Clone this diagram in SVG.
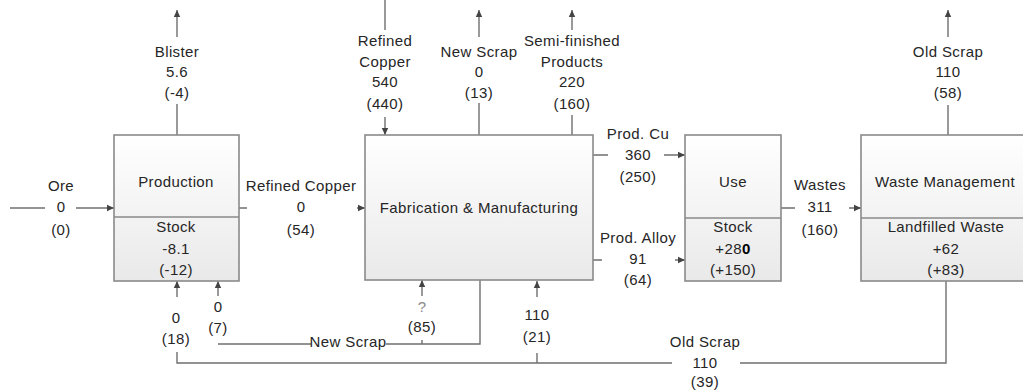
<svg xmlns="http://www.w3.org/2000/svg" width="1023" height="391" viewBox="0 0 1023 391">
<defs>
<linearGradient id="g" x1="0" y1="0" x2="0" y2="1">
<stop offset="0" stop-color="#ffffff"/>
<stop offset="1" stop-color="#e9e9e9"/>
</linearGradient>
<marker id="ah" markerWidth="8" markerHeight="8" refX="7" refY="4" orient="auto" markerUnits="userSpaceOnUse">
<path d="M0,0.8 L7,4 L0,7.2 Z" fill="#444"/>
</marker>
<style>
text{font-family:"Liberation Sans",Arial,sans-serif;font-size:15px;fill:#262626;text-anchor:middle;letter-spacing:0.4px}
.box{fill:url(#g);stroke:#8a8a8a;stroke-width:1.6}
.div{stroke:#8a8a8a;stroke-width:1.6;fill:none}
.c{fill:none;stroke:#6f6f6f;stroke-width:1.4}
.a{marker-end:url(#ah)}
.q{fill:#8a8a8a}
</style>
</defs>
<rect width="1023" height="391" fill="#ffffff"/>
<g id="connectors">
<path class="c" d="M10,208 H45"/>
<path class="c a" d="M76,208 H114"/>
<path class="c a" d="M177,135 V104 M177,37 V10"/>
<path class="c a" d="M239,208 H247 M357,208 H365"/>
<path class="c a" d="M385,0 V30 M385,117 V135"/>
<path class="c a" d="M479,135 V103 M479,37 V10"/>
<path class="c a" d="M572,135 V115 M572,30 V10"/>
<path class="c a" d="M593,155 H608 M664,155 H685"/>
<path class="c a" d="M593,260 H602 M675,260 H685"/>
<path class="c a" d="M781,208 H795 M849,208 H861"/>
<path class="c a" d="M948,135 V105 M948,37 V10"/>
<path class="c" d="M946,281 V363 H740 M672,363 H177 V352"/>
<path class="c a" d="M177,297 V281"/>
<path class="c a" d="M537,363 V353 M537,297 V281"/>
<path class="c" d="M480,280 V344 H386 M311,344 H218"/>
<path class="c a" d="M218,296 V281"/>
<path class="c a" d="M422,344 V340 M422,296 V280"/>
</g>
<g id="production">
<rect class="box" x="114" y="135" width="125" height="146"/>
<line class="div" x1="114" y1="217" x2="239" y2="217"/>
<text x="176" y="187">Production</text>
<text x="176" y="232">Stock</text>
<text x="176" y="254">-8.1</text>
<text x="176" y="275">(-12)</text>
</g>
<g id="fabrication">
<rect class="box" x="365" y="135" width="228" height="145"/>
<text x="479" y="213">Fabrication &amp; Manufacturing</text>
</g>
<g id="use">
<rect class="box" x="685" y="135" width="96" height="146"/>
<line class="div" x1="685" y1="218" x2="781" y2="218"/>
<text x="733" y="187">Use</text>
<text x="733" y="232">Stock</text>
<text x="733" y="254">+28<tspan font-weight="bold" fill="#000">0</tspan></text>
<text x="733" y="275">(+150)</text>
</g>
<g id="waste-management">
<rect class="box" x="861" y="135" width="168" height="146"/>
<line class="div" x1="861" y1="218" x2="1029" y2="218"/>
<text x="945" y="187">Waste Management</text>
<text x="946" y="232">Landfilled Waste</text>
<text x="946" y="254">+62</text>
<text x="946" y="275">(+83)</text>
</g>
<g id="labels">
<text x="61" y="191">Ore</text>
<text x="61" y="212">0</text>
<text x="61" y="235">(0)</text>
<text x="177" y="57">Blister</text>
<text x="177" y="77">5.6</text>
<text x="177" y="98">(-4)</text>
<text x="301" y="191">Refined Copper</text>
<text x="301" y="212">0</text>
<text x="301" y="235">(54)</text>
<text x="385" y="46">Refined</text>
<text x="385" y="67">Copper</text>
<text x="385" y="87">540</text>
<text x="385" y="109">(440)</text>
<text x="479" y="57">New Scrap</text>
<text x="479" y="77">0</text>
<text x="479" y="98">(13)</text>
<text x="572" y="46">Semi-finished</text>
<text x="572" y="67">Products</text>
<text x="572" y="87">220</text>
<text x="572" y="109">(160)</text>
<text x="638" y="139">Prod. Cu</text>
<text x="638" y="160">360</text>
<text x="638" y="182">(250)</text>
<text x="638" y="243">Prod. Alloy</text>
<text x="638" y="264">91</text>
<text x="638" y="285">(64)</text>
<text x="820" y="190">Wastes</text>
<text x="820" y="212">311</text>
<text x="820" y="235">(160)</text>
<text x="948" y="57">Old Scrap</text>
<text x="948" y="77">110</text>
<text x="948" y="98">(58)</text>
<text x="176" y="323">0</text>
<text x="176" y="344">(18)</text>
<text x="218" y="312">0</text>
<text x="218" y="333">(7)</text>
<text class="q" x="422" y="312">?</text>
<text x="422" y="332">(85)</text>
<text x="348" y="347">New Scrap</text>
<text x="537" y="320">110</text>
<text x="537" y="342">(21)</text>
<text x="705" y="347">Old Scrap</text>
<text x="705" y="368">110</text>
<text x="705" y="387">(39)</text>
</g>
</svg>
